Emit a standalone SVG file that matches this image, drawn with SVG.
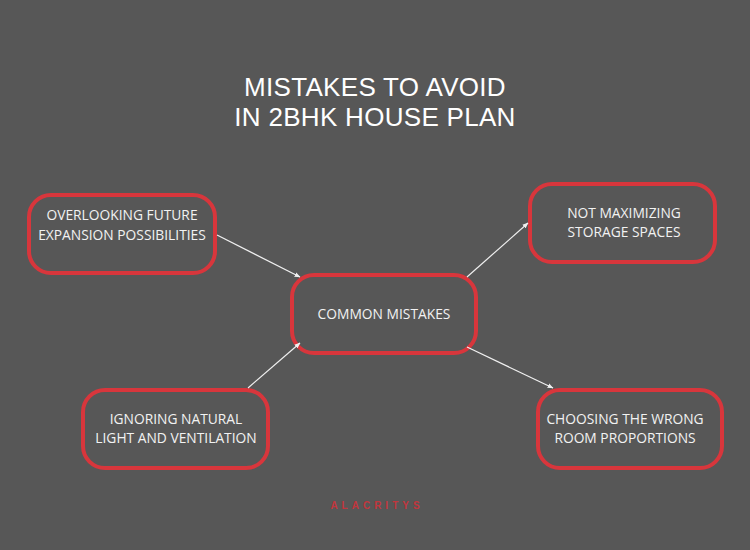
<svg xmlns="http://www.w3.org/2000/svg" width="750" height="550" viewBox="0 0 750 550">
<defs>
<style>
.box{fill:#575757;stroke:#d8363c;stroke-width:4}
.lbl{font-family:"Open Sans","Liberation Sans",sans-serif;font-size:13.8px;fill:#f2f2f2;text-anchor:middle}
.title{font-family:"Liberation Sans",sans-serif;font-size:26px;letter-spacing:0.3px;fill:#ffffff;text-anchor:middle}
.conn{stroke:#f0f0f0;stroke-width:1.2;fill:none;marker-end:url(#ah)}
</style>
<marker id="ah" viewBox="0 0 10 10" refX="9" refY="5" markerWidth="6" markerHeight="6" orient="auto" markerUnits="userSpaceOnUse">
<path d="M0,1 L10,5 L0,9 z" fill="#f0f0f0"/>
</marker>
</defs>
<rect width="750" height="550" fill="#575757"/>
<g id="title">
<text class="title" x="375" y="96">MISTAKES TO AVOID</text>
<text class="title" x="375" y="126">IN 2BHK HOUSE PLAN</text>
</g>
<g id="node-future">
<rect class="box" x="29" y="195" width="186" height="78" rx="22"/>
<text class="lbl" x="122" y="220">OVERLOOKING FUTURE</text>
<text class="lbl" x="122" y="240">EXPANSION POSSIBILITIES</text>
</g>
<g id="node-common">
<rect class="box" x="292" y="275" width="184" height="78" rx="22"/>
<text class="lbl" x="384" y="319">COMMON MISTAKES</text>
</g>
<g id="node-storage">
<rect class="box" x="530" y="184" width="185" height="78" rx="22"/>
<text class="lbl" x="624" y="218">NOT MAXIMIZING</text>
<text class="lbl" x="624" y="237">STORAGE SPACES</text>
</g>
<g id="node-light">
<rect class="box" x="83" y="390" width="185" height="78" rx="22"/>
<text class="lbl" x="176" y="424">IGNORING NATURAL</text>
<text class="lbl" x="176" y="443">LIGHT AND VENTILATION</text>
</g>
<g id="node-proportions">
<rect class="box" x="538" y="390" width="184" height="78" rx="22"/>
<text class="lbl" x="625" y="424">CHOOSING THE WRONG</text>
<text class="lbl" x="625" y="443">ROOM PROPORTIONS</text>
</g>
<g id="connectors">
<line class="conn" x1="217" y1="235" x2="300" y2="277"/>
<line class="conn" x1="467" y1="277" x2="528" y2="223"/>
<line class="conn" x1="248" y1="388" x2="300" y2="343"/>
<line class="conn" x1="467" y1="347" x2="553" y2="388"/>
</g>
<g id="watermark">
<text x="377" y="509" font-family="'Liberation Sans',sans-serif" font-size="10" font-weight="bold" letter-spacing="4" fill="#d0323a" fill-opacity="0.9" text-anchor="middle">ALACRITYS</text>
</g>
</svg>
